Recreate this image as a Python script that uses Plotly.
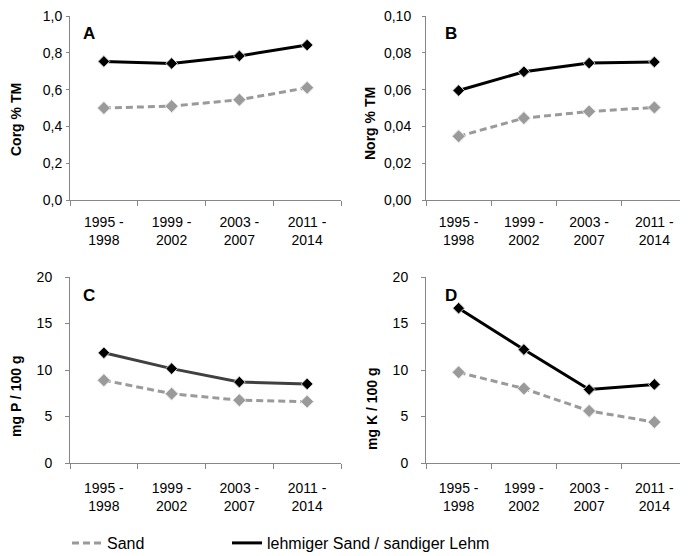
import plotly.graph_objects as go
from plotly.subplots import make_subplots

# page body has an 8px margin, so the figure is drawn 8px in from the window edge
OFF = 8
W, H = 688 - OFF, 556 - OFF

categories = ["1995 -<br>1998", "1999 -<br>2002", "2003 -<br>2007", "2011 -<br>2014"]
corg_sand = [0.50, 0.51, 0.545, 0.61]
corg_lehm = [0.753, 0.742, 0.783, 0.842]
norg_sand = [0.0346, 0.0445, 0.0481, 0.0503]
norg_lehm = [0.0595, 0.0697, 0.0744, 0.0750]
p_sand = [8.9, 7.45, 6.75, 6.6]
p_lehm = [11.85, 10.15, 8.7, 8.5]
k_sand = [9.75, 8.0, 5.6, 4.4]
k_lehm = [16.65, 12.2, 7.9, 8.45]

series_names = ["Sand", "lehmiger Sand / sandiger Lehm"]
panel_letters = ["A", "B", "C", "D"]
axis_titles = ["Corg % TM", "Norg % TM", "mg P / 100 g", "mg K / 100 g"]

FONT = "Liberation Sans, Arial, sans-serif"
SAND_C = "#9a9a9a"
LEHM_C = "#000000"

def px_x(v):
    return (v - OFF) / W

def px_y(v):
    return 1 - (v - OFF) / H

fig = make_subplots(rows=2, cols=2)

panels = [
    dict(sand=corg_sand, lehm=corg_lehm, rng=[0, 1.0], dtick=0.2, fmt=".1f",
         xd=(70, 341), yd=(16, 200), title_pos=(16, 120), letter_pos=(89, 33),
         lehm_line=LEHM_C, ylen=3, ystand=1, xstand=9),
    dict(sand=norg_sand, lehm=norg_lehm, rng=[0, 0.10], dtick=0.02, fmt=".2f",
         xd=(426, 687), yd=(16, 200), title_pos=(370, 124), letter_pos=(451, 33),
         lehm_line=LEHM_C, ylen=3, ystand=8, xstand=9),
    dict(sand=p_sand, lehm=p_lehm, rng=[0, 20], dtick=5, fmt="d",
         xd=(70, 341), yd=(277, 463), title_pos=(16, 397), letter_pos=(89, 295),
         lehm_line="#404040", ylen=4, ystand=10, xstand=12),
    dict(sand=k_sand, lehm=k_lehm, rng=[0, 20], dtick=5, fmt="d",
         xd=(426, 687), yd=(277, 463), title_pos=(372, 409), letter_pos=(451, 295),
         lehm_line=LEHM_C, ylen=4, ystand=10, xstand=12),
]

annotations = []
for i, p in enumerate(panels):
    r, c = i // 2 + 1, i % 2 + 1
    fig.add_trace(go.Scatter(
        x=categories, y=p["sand"], mode="lines+markers", showlegend=False,
        line=dict(color=SAND_C, width=3, dash="7px,4px"),
        marker=dict(symbol="diamond", size=10, color=SAND_C, line=dict(color="#e6e6e6", width=1)),
    ), row=r, col=c)
    fig.add_trace(go.Scatter(
        x=categories, y=p["lehm"], mode="lines+markers", showlegend=False,
        line=dict(color=p["lehm_line"], width=3),
        marker=dict(symbol="diamond", size=9, color=LEHM_C, line=dict(color="#d0d0d0", width=1)),
    ), row=r, col=c)
    fig.update_xaxes(row=r, col=c, domain=[px_x(p["xd"][0]), min(px_x(p["xd"][1]), 1)],
                     type="category", range=[-0.5, 3.5], tickson="boundaries",
                     ticks="outside", ticklen=5, tickcolor="#868686",
                     showline=True, linecolor="#868686", linewidth=1,
                     showgrid=False, zeroline=False, ticklabelstandoff=p["xstand"],
                     ticklabeloverflow="allow",
                     tickfont=dict(family=FONT, size=14, color="#000"), automargin=False)
    fig.update_yaxes(row=r, col=c, domain=[px_y(p["yd"][1]), px_y(p["yd"][0])],
                     range=p["rng"], dtick=p["dtick"], tick0=0, tickformat=p["fmt"],
                     ticks="outside", ticklen=p["ylen"], tickcolor="#868686",
                     showline=True, linecolor="#868686", linewidth=1,
                     showgrid=False, zeroline=False, ticklabelstandoff=p["ystand"],
                     ticklabeloverflow="allow",
                     tickfont=dict(family=FONT, size=14, color="#000"), automargin=False)
    annotations.append(dict(text="<b>%s</b>" % axis_titles[i], x=px_x(p["title_pos"][0]),
                            y=px_y(p["title_pos"][1]), xref="paper", yref="paper",
                            textangle=-90, showarrow=False, xanchor="center", yanchor="middle",
                            font=dict(family=FONT, size=14, color="#000")))
    annotations.append(dict(text="<b>%s</b>" % panel_letters[i], x=px_x(p["letter_pos"][0]),
                            y=px_y(p["letter_pos"][1]), xref="paper", yref="paper",
                            showarrow=False, xanchor="center", yanchor="middle",
                            font=dict(family=FONT, size=17, color="#000")))

# legend-only traces, one per legend box
fig.add_trace(go.Scatter(x=[None], y=[None], mode="lines", name=series_names[0], legend="legend",
                         line=dict(color=SAND_C, width=3, dash="7px,4px")), row=1, col=1)
fig.add_trace(go.Scatter(x=[None], y=[None], mode="lines", name=series_names[1], legend="legend2",
                         line=dict(color=LEHM_C, width=3)), row=1, col=1)

legend_common = dict(orientation="h", xanchor="left", yanchor="middle",
                     font=dict(family=FONT, size=16, color="#000"), bgcolor="rgba(0,0,0,0)")

fig.update_layout(
    width=W, height=H, margin=dict(l=0, r=0, t=0, b=0, autoexpand=False),
    paper_bgcolor="white", plot_bgcolor="white",
    separators=",.",
    annotations=annotations,
    showlegend=True,
    legend=dict(x=px_x(67), y=px_y(543), **legend_common),
    legend2=dict(x=px_x(227), y=px_y(543), **legend_common),
)

fig.write_html("out.html")
